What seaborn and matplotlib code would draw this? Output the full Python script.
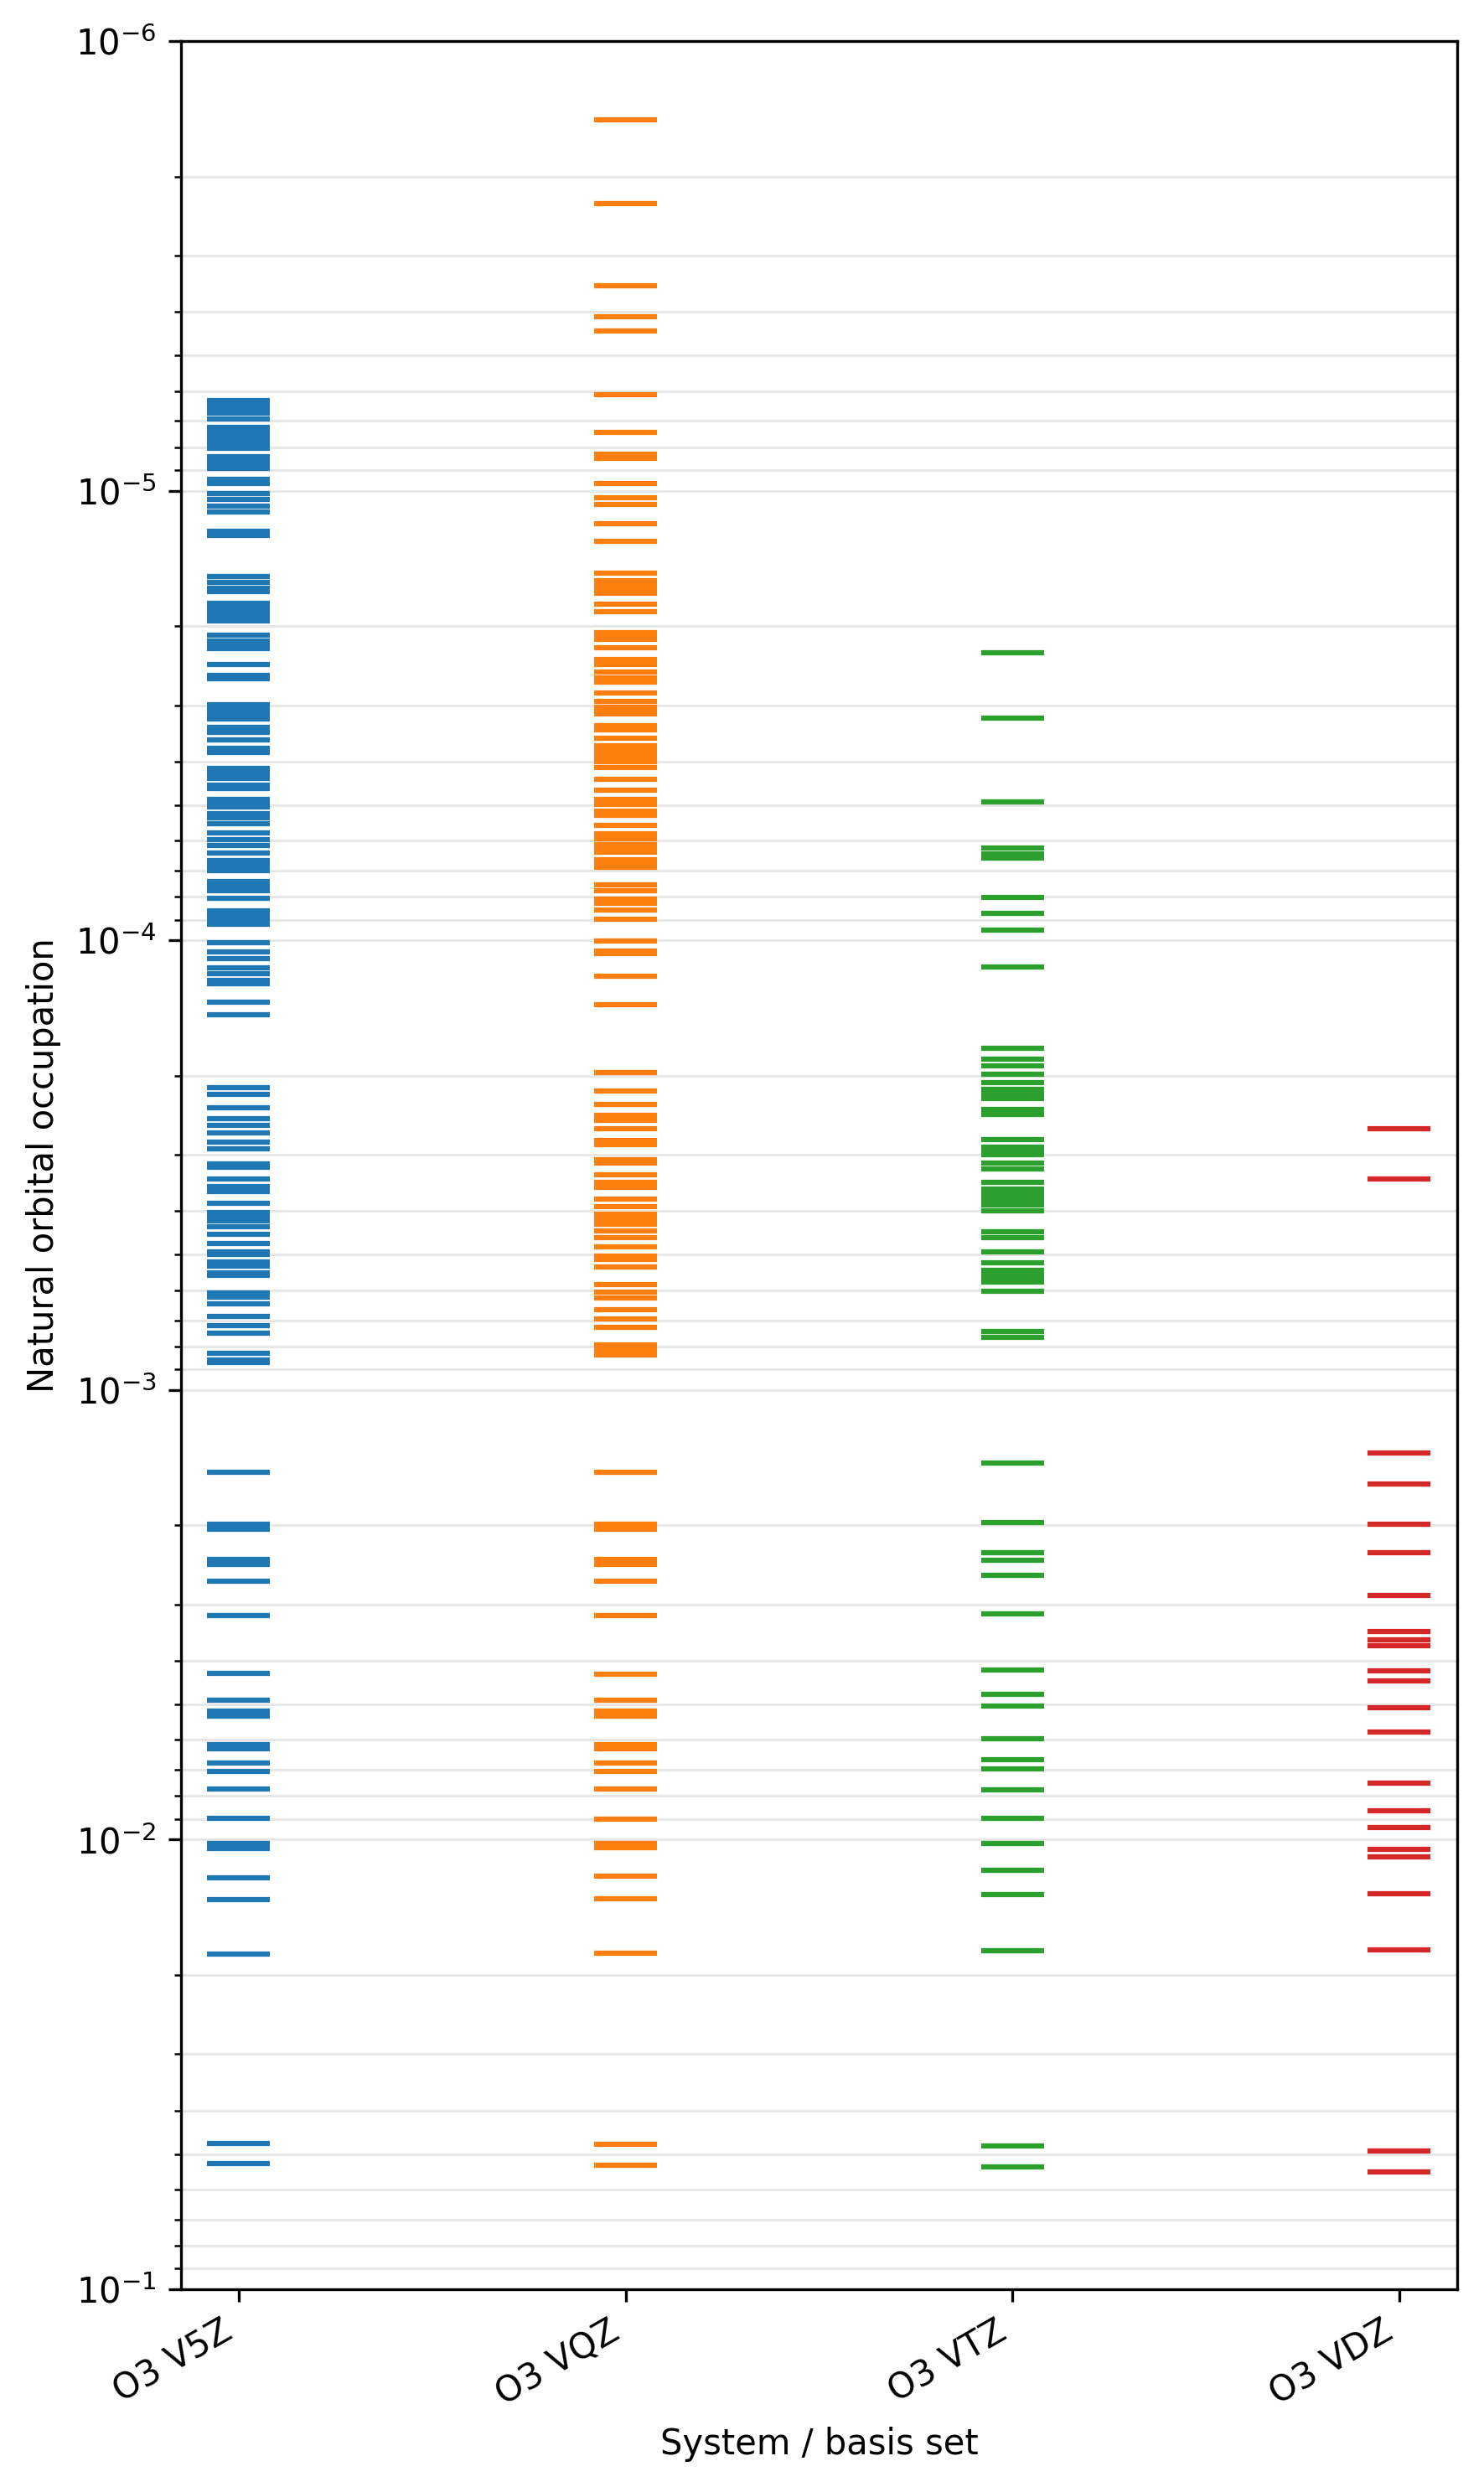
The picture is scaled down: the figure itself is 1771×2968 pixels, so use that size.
"""Natural orbital occupations of O3 for several basis sets
"""
import numpy as np
import pandas as pd
import matplotlib
matplotlib.use('Agg')
import matplotlib.pyplot as plt
import seaborn as sns

systems = ['O3 V5Z', 'O3 VQZ', 'O3 VTZ', 'O3 VDZ']

occ_v5z = [
    6.30e-6, 6.42e-6, 6.59e-6, 6.72e-6, 6.92e-6, 7.22e-6, 7.40e-6, 7.57e-6,
    7.76e-6, 7.94e-6, 8.05e-6, 8.41e-6, 8.62e-6, 8.82e-6, 8.94e-6, 9.42e-6,
    9.64e-6, 1.013e-5, 1.044e-5, 1.083e-5, 1.117e-5, 1.232e-5, 1.256e-5,
    1.553e-5, 1.599e-5, 1.645e-5, 1.680e-5, 1.783e-5, 1.829e-5, 1.875e-5,
    1.919e-5, 1.944e-5, 2.099e-5, 2.160e-5, 2.215e-5, 2.244e-5, 2.432e-5,
    2.571e-5, 2.622e-5, 2.992e-5, 3.067e-5, 3.138e-5, 3.218e-5, 3.357e-5,
    3.448e-5, 3.576e-5, 3.737e-5, 3.817e-5, 4.146e-5, 4.250e-5, 4.357e-5,
    4.519e-5, 4.598e-5, 4.851e-5, 4.974e-5, 5.05e-5, 5.22e-5, 5.35e-5,
    5.51e-5, 5.78e-5, 5.97e-5, 6.14e-5, 6.39e-5, 6.65e-5, 6.81e-5, 7.00e-5,
    7.40e-5, 7.58e-5, 7.77e-5, 8.06e-5, 8.60e-5, 8.81e-5, 9.06e-5, 9.22e-5,
    1.011e-4, 1.063e-4, 1.096e-4, 1.153e-4, 1.184e-4, 1.230e-4, 1.249e-4,
    1.373e-4, 1.465e-4, 2.124e-4, 2.200e-4, 2.360e-4, 2.494e-4, 2.576e-4,
    2.681e-4, 2.816e-4, 2.903e-4, 3.148e-4, 3.202e-4, 3.396e-4, 3.523e-4,
    3.616e-4, 3.850e-4, 4.025e-4, 4.106e-4, 4.215e-4, 4.333e-4, 4.515e-4,
    4.728e-4, 4.920e-4, 5.003e-4, 5.191e-4, 5.304e-4, 5.478e-4, 5.571e-4,
    6.090e-4, 6.204e-4, 6.424e-4, 6.863e-4, 7.187e-4, 7.479e-4, 8.277e-4,
    8.560e-4, 8.679e-4,
    1.522e-3, 1.988e-3, 2.039e-3, 2.384e-3, 2.445e-3, 2.664e-3, 3.170e-3,
    4.267e-3, 4.890e-3, 5.180e-3, 5.313e-3, 6.134e-3, 6.290e-3, 6.749e-3,
    7.062e-3, 7.714e-3, 8.97e-3, 1.018e-2, 1.046e-2, 1.214e-2, 1.360e-2,
    1.799e-2, 4.73e-2, 5.25e-2,
]

occ_vqz = [
    1.499e-6, 2.301e-6, 3.505e-6, 4.111e-6, 4.411e-6, 6.12e-6, 7.43e-6,
    8.31e-6, 8.46e-6, 9.63e-6, 1.035e-5, 1.074e-5, 1.185e-5, 1.294e-5,
    1.526e-5, 1.588e-5, 1.630e-5, 1.661e-5, 1.692e-5, 1.789e-5, 1.860e-5,
    2.070e-5, 2.109e-5, 2.145e-5, 2.234e-5, 2.378e-5, 2.433e-5, 2.533e-5,
    2.610e-5, 2.663e-5, 2.812e-5, 2.935e-5, 3.029e-5, 3.086e-5, 3.135e-5,
    3.329e-5, 3.396e-5, 3.550e-5, 3.690e-5, 3.765e-5, 3.841e-5, 3.919e-5,
    3.998e-5, 4.126e-5, 4.382e-5, 4.634e-5, 4.858e-5, 4.985e-5, 5.16e-5,
    5.28e-5, 5.56e-5, 5.80e-5, 5.94e-5, 6.12e-5, 6.29e-5, 6.38e-5, 6.61e-5,
    6.80e-5, 6.88e-5, 7.52e-5, 7.77e-5, 8.09e-5, 8.28e-5, 8.55e-5, 8.99e-5,
    1.004e-4, 1.055e-4, 1.071e-4, 1.202e-4, 1.389e-4, 1.970e-4, 2.166e-4,
    2.317e-4, 2.449e-4, 2.518e-4, 2.624e-4, 2.782e-4, 2.851e-4, 3.077e-4,
    3.130e-4, 3.327e-4, 3.457e-4, 3.548e-4, 3.769e-4, 3.915e-4, 4.056e-4,
    4.137e-4, 4.227e-4, 4.279e-4, 4.434e-4, 4.586e-4, 4.802e-4, 5.028e-4,
    5.129e-4, 5.33e-4, 5.82e-4, 6.05e-4, 6.24e-4, 6.64e-4, 6.94e-4, 7.24e-4,
    7.93e-4, 8.09e-4, 8.25e-4, 8.35e-4,
    1.526e-3, 1.988e-3, 2.039e-3, 2.384e-3, 2.445e-3, 2.664e-3, 3.178e-3,
    4.278e-3, 4.890e-3, 5.180e-3, 5.313e-3, 6.134e-3, 6.290e-3, 6.749e-3,
    7.062e-3, 7.73e-3, 9.02e-3, 1.018e-2, 1.043e-2, 1.208e-2, 1.353e-2,
    1.790e-2, 4.755e-2, 5.29e-2,
]

occ_vtz = [
    2.295e-5, 3.199e-5, 4.914e-5, 6.245e-5, 6.43e-5, 6.56e-5, 8.03e-5,
    8.70e-5, 9.48e-5, 1.148e-4, 1.735e-4, 1.835e-4, 1.904e-4, 1.985e-4,
    2.068e-4, 2.149e-4, 2.189e-4, 2.247e-4, 2.382e-4, 2.442e-4, 2.773e-4,
    2.882e-4, 2.926e-4, 2.999e-4, 3.130e-4, 3.227e-4, 3.447e-4, 3.570e-4,
    3.648e-4, 3.727e-4, 3.808e-4, 3.879e-4, 3.993e-4, 4.453e-4, 4.578e-4,
    4.920e-4, 5.216e-4, 5.420e-4, 5.537e-4, 5.657e-4, 5.754e-4, 6.026e-4,
    7.42e-4, 7.63e-4,
    1.455e-3, 1.968e-3, 2.301e-3, 2.395e-3, 2.584e-3, 3.146e-3, 4.203e-3,
    4.755e-3, 5.051e-3, 5.966e-3, 6.648e-3, 6.974e-3, 7.734e-3, 8.97e-3,
    1.018e-2, 1.172e-2, 1.326e-2, 1.763e-2, 4.80e-2, 5.34e-2,
]

occ_vdz = [
    2.622e-4, 3.389e-4, 1.378e-3, 1.615e-3, 1.992e-3, 2.302e-3, 2.859e-3,
    3.439e-3, 3.592e-3, 3.697e-3, 4.209e-3, 4.428e-3, 5.082e-3, 5.767e-3,
    7.482e-3, 8.614e-3, 9.396e-3, 1.051e-2, 1.093e-2, 1.319e-2, 1.756e-2,
    4.92e-2, 5.48e-2,
]

df = pd.concat([
    pd.DataFrame({'system': name, 'occupation': occ})
    for name, occ in zip(systems, [occ_v5z, occ_vqz, occ_vtz, occ_vdz])
], ignore_index=True)

fig, ax = plt.subplots(figsize=(1771 / 300, 2968 / 300), dpi=300)
sns.scatterplot(data=df, x='system', y='occupation', hue='system',
                palette='tab10', marker='_', s=324, linewidth=1.5,
                legend=False, ax=ax)

ax.set_yscale('log')
ax.set_ylim(1e-1, 1e-6)
ax.set_xlim(-0.15, 3.15)
ax.grid(axis='y', which='both', color='#e6e6e6', linewidth=0.7)
ax.set_axisbelow(True)
ax.set_xlabel('System / basis set')
ax.set_ylabel('Natural orbital occupation')
plt.setp(ax.get_xticklabels(), rotation=30, ha='right')

fig.subplots_adjust(left=0.1218, right=0.982, top=0.9835, bottom=0.0795)
plt.savefig('out.png', dpi=300)
